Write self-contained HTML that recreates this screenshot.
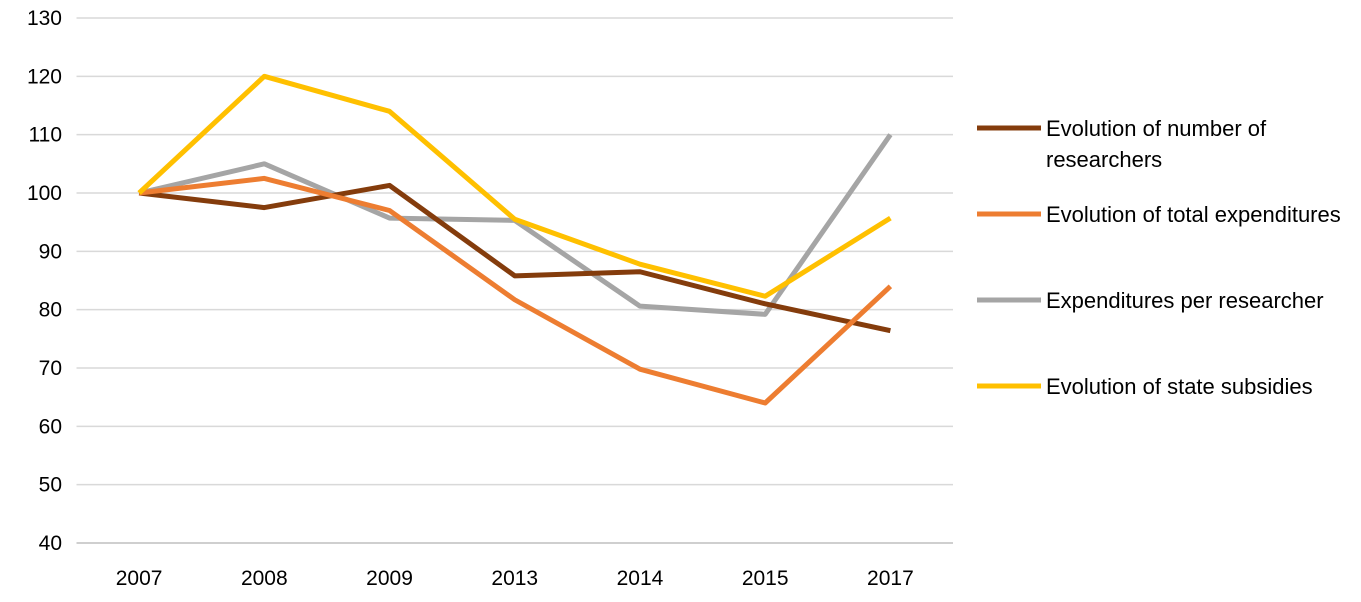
<!DOCTYPE html>
<html><head><meta charset="utf-8"><style>
body{margin:0;background:#fff;}
svg{display:block;font-family:"Liberation Sans",Arial,sans-serif;}
</style></head><body>
<svg id="chart" width="1361" height="602" viewBox="0 0 1361 602">
<g id="grid"></g>
<g id="ylabels"></g>
<g id="xlabels"></g>
<g id="series"></g>
<g id="legend"></g>
</svg>
<script>
const categories = ["2007","2008","2009","2013","2014","2015","2017"];
const researchers = [100, 97.5, 101.3, 85.8, 86.5, 81, 76.4];
const totalExp = [100, 102.5, 97, 81.7, 69.8, 64, 84];
const perResearcher = [100, 105, 95.7, 95.3, 80.6, 79.2, 110];
const subsidies = [100, 120, 114, 95.5, 87.8, 82.3, 95.7];
const yTicks = [40,50,60,70,80,90,100,110,120,130];
const seriesNames = ["Evolution of number of|researchers","Evolution of total expenditures","Expenditures per researcher","Evolution of state subsidies"];

const NS="http://www.w3.org/2000/svg";
const left=76.5, right=953, yTop=18, yBot=543, yMin=40, yMax=130;
const bw=(right-left)/categories.length;
const x=i=>left+bw*(i+0.5);
const y=v=>yBot-(v-yMin)/(yMax-yMin)*(yBot-yTop);
function mk(t,a,p){const e=document.createElementNS(NS,t);for(const k in a)e.setAttribute(k,a[k]);p.appendChild(e);return e;}

const grid=document.getElementById('grid'), yl=document.getElementById('ylabels'), xl=document.getElementById('xlabels');
yTicks.forEach(v=>{
  const l=mk('line',{x1:left,x2:right,y1:y(v),y2:y(v),stroke:v===40?'#bfbfbf':'#d9d9d9','stroke-width':1.5},grid);
  
  
  const t=mk('text',{x:62,y:y(v)+7,'text-anchor':'end','font-size':21,fill:'#000'},yl);
  t.textContent=v;
  
  
});
categories.forEach((c,i)=>{
  const t=mk('text',{x:x(i),y:585,'text-anchor':'middle','font-size':21,fill:'#000'},xl);
  t.textContent=c;
  
  
});
const sdata=[researchers,totalExp,perResearcher,subsidies];
const colors=['#843C0C','#ED7D31','#A5A5A5','#FFC000'];
const sg=document.getElementById('series');
[2,0,1,3].forEach(k=>{
  const p=mk('polyline',{points:sdata[k].map((v,i)=>x(i)+','+y(v)).join(' '),fill:'none',stroke:colors[k],'stroke-width':5,'stroke-linejoin':'round'},sg);
  
  
});
const lg=document.getElementById('legend');
const ly=[128,214,300,386];
seriesNames.forEach((n,k)=>{
  const g=mk('g',{},lg);
  
  
  mk('line',{x1:977,x2:1041,y1:ly[k],y2:ly[k],stroke:colors[k],'stroke-width':5},g);
  n.split('|').forEach((s,j)=>{
    const t=mk('text',{x:1046,y:ly[k]+8+j*31,'font-size':22,fill:'#000'},g);
    t.textContent=s;
  });
});
</script>
</body></html>
